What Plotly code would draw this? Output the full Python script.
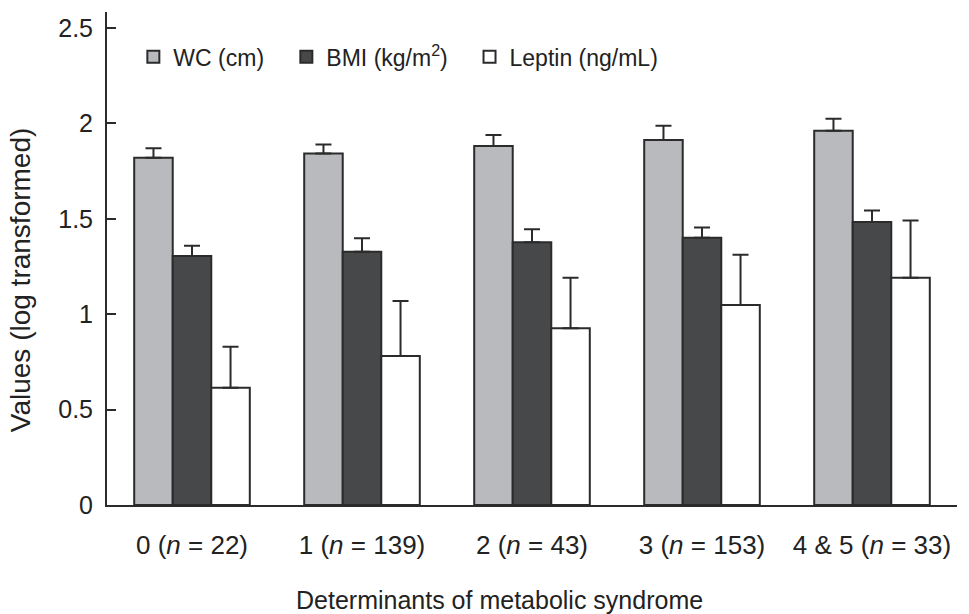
import plotly.graph_objects as go

categories = ["0 (<i>n</i> = 22)", "1 (<i>n</i> = 139)", "2 (<i>n</i> = 43)",
              "3 (<i>n</i> = 153)", "4 & 5 (<i>n</i> = 33)"]
wc = [1.82, 1.843, 1.882, 1.913, 1.961]
wc_err = [0.05, 0.047, 0.057, 0.075, 0.064]
bmi = [1.305, 1.328, 1.377, 1.401, 1.483]
bmi_err = [0.054, 0.07, 0.068, 0.054, 0.06]
leptin = [0.615, 0.781, 0.926, 1.048, 1.191]
leptin_err = [0.215, 0.288, 0.265, 0.264, 0.30]
ytick_vals = [0, 0.5, 1, 1.5, 2, 2.5]
ytick_text = ["0", "0.5", "1", "1.5", "2", "2.5"]

FONT = "Liberation Sans, Arial, sans-serif"
INK = "#2b2b2b"
TXT = "#222222"

def make_bar(name, y, err, color, legend):
    return go.Bar(
        name=name, x=categories, y=y, showlegend=True,
        marker=dict(color=color, line=dict(color=INK, width=2)),
        error_y=dict(type="data", symmetric=False, array=err,
                     arrayminus=[0] * len(err), color=INK,
                     thickness=2, width=8),
        legend=legend,
    )

fig = go.Figure()
fig.add_trace(make_bar("WC (cm)", wc, wc_err, "#b9babd", "legend"))
fig.add_trace(make_bar("BMI (kg/m<sup>2</sup>)", bmi, bmi_err, "#47484a", "legend2"))
fig.add_trace(make_bar("Leptin (ng/mL)", leptin, leptin_err, "#ffffff", "legend3"))

leg_common = dict(orientation="h", yanchor="middle", xanchor="left",
                  font=dict(family=FONT, size=23, color=TXT),
                  bgcolor="rgba(0,0,0,0)", borderwidth=0, visible=True)

fig.update_layout(
    width=969, height=614,
    margin=dict(l=107, r=12, t=12, b=109),
    paper_bgcolor="white", plot_bgcolor="white",
    barmode="group", bargap=0.32, bargroupgap=0,
    showlegend=True,
    font=dict(family=FONT, size=24, color=TXT),
    legend=dict(x=0.031, y=0.909, **leg_common),
    legend2=dict(x=0.211, y=0.909, **leg_common),
    legend3=dict(x=0.4265, y=0.909, **leg_common),
    xaxis=dict(
        range=[-0.5, 4.5], showline=True, linecolor=INK, linewidth=2,
        ticks="", showgrid=False, zeroline=False,
        ticklabelstandoff=16,
        tickfont=dict(family=FONT, size=26, color=TXT),
    ),
    yaxis=dict(
        range=[0, 2.584], showline=True, linecolor=INK, linewidth=2,
        ticks="inside", ticklen=9, tickwidth=2, tickcolor=INK,
        tickvals=ytick_vals, ticktext=ytick_text,
        showgrid=False, zeroline=False, ticklabelstandoff=7,
        tickfont=dict(family=FONT, size=25, color=TXT),
    ),
    annotations=[
        dict(text="Values (log transformed)", xref="paper", yref="paper",
             x=-0.1024, y=0.458, xanchor="center", yanchor="middle",
             textangle=-90, showarrow=False,
             font=dict(family=FONT, size=28, color=TXT)),
        dict(text="Determinants of metabolic syndrome", xref="paper", yref="paper",
             x=0.462, y=-0.193, xanchor="center", yanchor="middle",
             showarrow=False,
             font=dict(family=FONT, size=25, color=TXT)),
    ],
)

fig.write_html("out.html")
